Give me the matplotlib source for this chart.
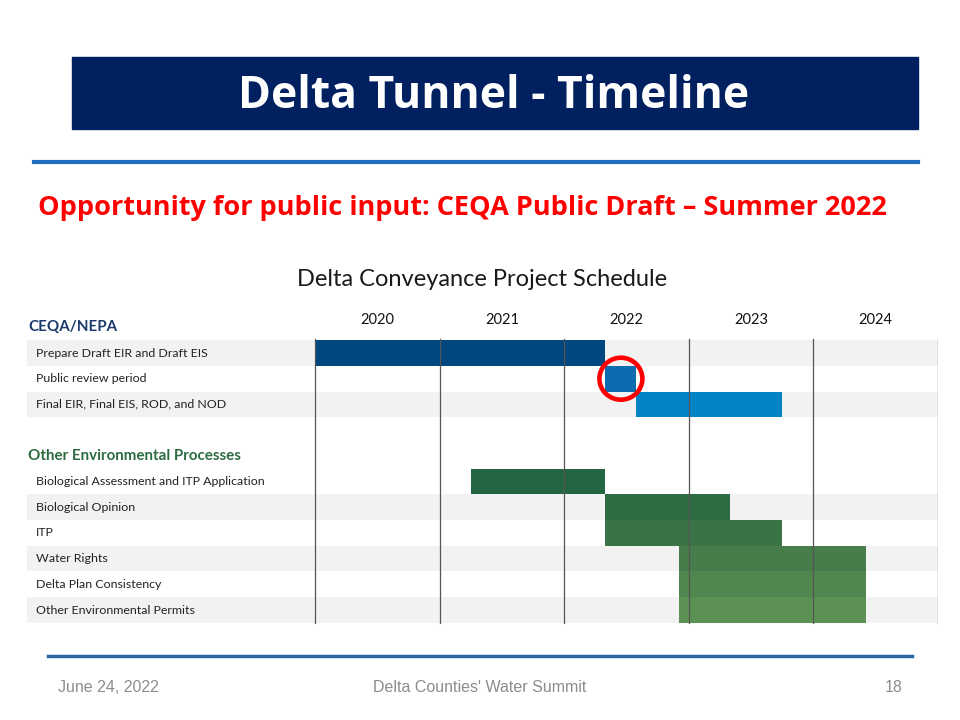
import numpy as np
import matplotlib
matplotlib.use("Agg")
import matplotlib.pyplot as plt
from matplotlib.patches import Rectangle, Ellipse

# slide texts
slide_title = "Delta Tunnel - Timeline"
subtitle = "Opportunity for public input: CEQA Public Draft \u2013 Summer 2022"
chart_title = "Delta Conveyance Project Schedule"
footer_left = "June 24, 2022"
footer_mid = "Delta Counties' Water Summit"
footer_right = "18"

# schedule data (fractional years)
years = [2020, 2021, 2022, 2023, 2024]
headers = ["CEQA/NEPA", "Other Environmental Processes"]
header_rows = [0, 5]
tasks = ["Prepare Draft EIR and Draft EIS", "Public review period",
         "Final EIR, Final EIS, ROD, and NOD",
         "Biological Assessment and ITP Application", "Biological Opinion", "ITP",
         "Water Rights", "Delta Plan Consistency", "Other Environmental Permits"]
task_rows = [1, 2, 3, 6, 7, 8, 9, 10, 11]
starts = [2020.0, 2022.33, 2022.58, 2021.25, 2022.33, 2022.33, 2022.92, 2022.92, 2022.92]
ends = [2022.33, 2022.58, 2023.75, 2022.33, 2023.33, 2023.75, 2024.42, 2024.42, 2024.42]
colors = ["#00467F", "#0B6BAF", "#0283C6", "#246641", "#2E6C43", "#3A7446",
          "#467D4A", "#4F874E", "#5B9152"]
band_rows = [1, 3, 7, 9, 11]
highlight = (2022.455, 2)  # public review circled

fig = plt.figure(figsize=(9.6, 7.2), dpi=100)
fig.patch.set_facecolor("white")

# slide decoration in pixel coords
deco = fig.add_axes([0, 0, 1, 1])
deco.set_xlim(0, 960)
deco.set_ylim(720, 0)
deco.axis("off")
deco.add_patch(Rectangle((72, 57), 846, 72, color="#002060"))
deco.text(494, 96, slide_title, color="white", fontsize=32, fontweight="bold",
          family="Open Sans", ha="center", va="center")
deco.plot([34, 918], [162, 162], color="#1F6FBF", lw=3)
deco.text(38, 208, subtitle, color="#FF0000", fontsize=19.5, fontweight="bold",
          family="Open Sans", ha="left", va="center")
deco.text(482, 280, chart_title, color="#1a1a1a", fontsize=17, family="Lato",
          ha="center", va="center")
deco.plot([48, 912], [656, 656], color="#2A67A3", lw=2.5)
deco.text(58, 687, footer_left, color="#8c8c8c", fontsize=11.5,
          family="Liberation Sans", ha="left", va="center")
deco.text(480, 687, footer_mid, color="#8c8c8c", fontsize=11.5,
          family="Liberation Sans", ha="center", va="center")
deco.text(903, 687, footer_right, color="#8c8c8c", fontsize=11.5,
          family="Liberation Sans", ha="right", va="center")

# gantt axes: pixel x 27..938, y 300..630
px_year = 124.6
x0 = 2020 - (315 - 27) / px_year
pitch = 25.7
r0 = 327.3
ax = fig.add_axes([27 / 960, 1 - 630 / 720, (938 - 27) / 960, 330 / 720])
ax.set_xlim(x0, 2025)
ax.set_ylim((630 - r0) / pitch, (300 - r0) / pitch)
ax.axis("off")

for r in band_rows:
    ax.barh(r, 2025 - x0, left=x0, height=1.0, color="#F2F2F2", zorder=1)
for t, r, s, e, c in zip(tasks, task_rows, starts, ends, colors):
    ax.barh(r, e - s, left=s, height=1.0, color=c, zorder=2)
    ax.text(x0 + 9 / px_year, r, t, fontsize=8.9, family="Lato",
            color="#222222", ha="left", va="center", zorder=4)
for h, r, hc in zip(headers, header_rows, ["#1B3A6B", "#2C6B40"]):
    ax.text(x0 + 1 / px_year, r, h, fontsize=10.9, family="Lato", fontweight="bold",
            color=hc, ha="left", va="center", zorder=4)
for y in years + [2025]:
    ax.plot([y, y], [0.45, 11.5], color="#555555", lw=0.9, zorder=3)
for y in years:
    ax.text(y + 0.5, -0.3, str(y), fontsize=10.5, family="Lato", color="#111111",
            ha="center", va="center")
ax.add_patch(Ellipse(highlight, 43 / px_year, 42 / pitch, fill=False,
                     edgecolor="#FF0000", lw=3.3, zorder=5))

fig.savefig("out.png", dpi=100)
